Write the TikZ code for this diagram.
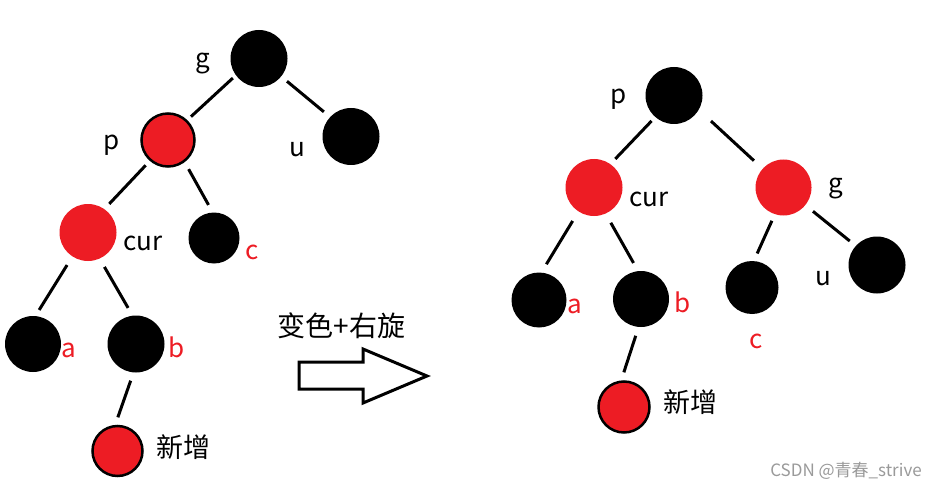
\documentclass[tikz,border=0pt]{standalone}
\usepackage{fontspec}
\setmainfont{Noto Sans CJK SC}
\definecolor{nodered}{HTML}{ED1C24}
\definecolor{wmgray}{HTML}{9A9A9A}
\begin{document}
\begin{tikzpicture}[x=1pt,y=-1pt,
  bn/.style={circle,fill=black,inner sep=0pt,minimum size=#1},
  bn/.default=57pt,
  rn/.style={circle,fill=nodered,inner sep=0pt,minimum size=#1},
  rn/.default=57pt,
  rb/.style={circle,fill=nodered,draw=black,line width=2.5pt,inner sep=0pt,minimum size=#1},
  rb/.default=53pt,
  conn/.style={line width=3pt},
  lbl/.style={font=\fontsize{26}{30}\selectfont,anchor=base,inner sep=0pt},
  cjk/.style={font=\fontsize{27}{32}\selectfont,anchor=center,inner sep=0pt},
  redlbl/.style={lbl,text=nodered}
]
\useasboundingbox (0,0) rectangle (944,489);
\fill[white] (0,0) rectangle (944,489);

% ---------- left tree ----------
\node[bn] (Lg) at (259,58.5) {};
\node[rb] (Lp) at (168,140) {};
\node[bn] (Lu) at (351,136.5) {};
\node[rn] (Lcur) at (88,232.5) {};
\node[bn=51pt] (Lc) at (214,238) {};
\node[bn=56pt] (La) at (33,344) {};
\node[bn=57pt] (Lb) at (136,344) {};
\node[rb=50pt] (Lnew) at (117.5,451) {};

\draw[conn,shorten <=4pt,shorten >=5pt] (Lg.216.9) -- (Lp.46.2);
\draw[conn,shorten <=7.4pt,shorten >=8pt] (Lg.321.2) -- (Lu.137.8);
\draw[conn,shorten <=6pt,shorten >=7pt] (Lp.229.8) -- (Lcur.55.9);
\draw[conn,shorten <=8pt,shorten >=8.5pt] (Lp.307.2) -- (Lc.93.4);
\draw[conn,shorten <=10pt,shorten >=7pt] (Lcur.237.1) -- (La.85.1);
\draw[conn,shorten <=9.5pt,shorten >=8.8pt] (Lcur.294.9) -- (Lb.97.7);
\draw[conn,shorten <=8.6pt,shorten >=8pt] (Lb.265.4) -- (Lnew.95.9);

\node[lbl] (tLg) at (203,68) {g};
\node[lbl] (tLp) at (112,150) {p};
\node[lbl] (tLu) at (297,157) {u};
\node[lbl] (tLcur) at (143,250) {cur};
\node[redlbl] (tLc) at (252,259) {c};
\node[redlbl] (tLa) at (69,357) {a};
\node[redlbl] (tLb) at (176.5,357) {b};
\node[cjk] (tLnew) at (183.5,447) {新增};

% ---------- arrow ----------
\node[cjk,font=\fontsize{28}{32}\selectfont] (op) at (341.5,326) {变色+右旋};
\draw[line width=3pt,line join=miter,fill=white]
  (299,362) -- (363,362) -- (363,349) -- (427,376) -- (363,403) -- (363,389) -- (299,389) -- cycle;

% ---------- right tree ----------
\node[bn] (Rp) at (674,95.5) {};
\node[rn] (Rcur) at (594,187.5) {};
\node[rn=56pt] (Rg) at (783.5,187.5) {};
\node[bn=55pt] (Ra) at (539,300) {};
\node[bn=56pt] (Rb) at (641,299) {};
\node[bn=53pt] (Rc) at (752,287.5) {};
\node[bn] (Ru) at (877,265) {};
\node[rb=51pt] (Rnew) at (624,407) {};

\draw[conn,shorten <=5.2pt,shorten >=7pt] (Rp.229.2) -- (Rcur.55.9);
\draw[conn,shorten <=16.5pt,shorten >=11.7pt] (Rp.330) -- (Rg.138.1);
\draw[conn,shorten <=11pt,shorten >=9.6pt] (Rcur.237.9) -- (Ra.85.4);
\draw[conn,shorten <=10.4pt,shorten >=9.2pt] (Rcur.294.3) -- (Rb.96.2);
\draw[conn,shorten <=7.1pt,shorten >=8.1pt] (Rg.252.6) -- (Rc.86.7);
\draw[conn,shorten <=9.7pt,shorten >=7.6pt] (Rg.321.5) -- (Ru.138.4);
\draw[conn,shorten <=9.1pt,shorten >=8.5pt] (Rb.265.4) -- (Rnew.96.5);

\node[lbl] (tRp) at (619,104) {p};
\node[lbl] (tRcur) at (649,206) {cur};
\node[lbl] (tRg) at (835.5,193) {g};
\node[redlbl] (tRa) at (575,313) {a};
\node[redlbl] (tRb) at (683,312) {b};
\node[lbl] (tRu) at (823,285) {u};
\node[redlbl] (tRc) at (756,348) {c};
\node[cjk] (tRnew) at (690,402) {新增};

% ---------- watermark ----------
\node[font=\fontsize{17}{20}\selectfont,text=wmgray,anchor=center,inner sep=0pt] (wm) at (846,470.5) {CSDN @青春\_strive};
\end{tikzpicture}
\end{document}
